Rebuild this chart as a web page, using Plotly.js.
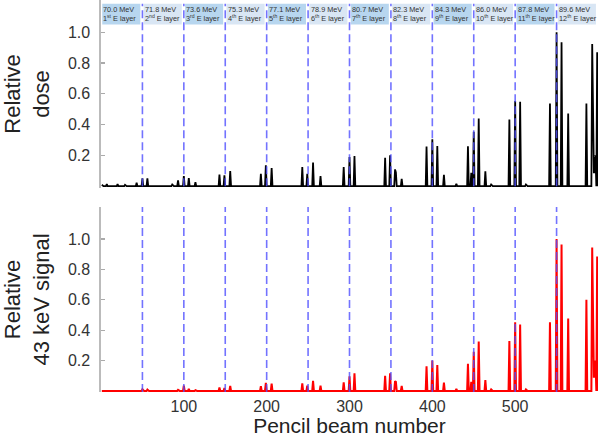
<!DOCTYPE html>
<html><head><meta charset="utf-8">
<script src="https://cdn.plot.ly/plotly-3.0.1.min.js"></script>
<style>html,body{margin:0;padding:0;background:#fff}#chart{width:600px;height:437px}</style>
</head><body><div id="chart"></div>
<script>
// ---- data ----
const nBeams = 600;
const layerStarts = [0, 50, 100, 150, 200, 250, 300, 350, 400, 450, 500, 550];
const layerEnergies = ['70.0', '71.8', '73.6', '75.3', '77.1', '78.9', '80.7', '82.3', '84.3', '86.0', '87.8', '89.6'];
const layerOrdinals = ['1<sup>st</sup>', '2<sup>nd</sup>', '3<sup>rd</sup>', '4<sup>th</sup>', '5<sup>th</sup>', '6<sup>th</sup>',
  '7<sup>th</sup>', '8<sup>th</sup>', '9<sup>th</sup>', '10<sup>th</sup>', '11<sup>th</sup>', '12<sup>th</sup>'];

const doseBeams = [1, 7, 20, 29, 43, 50, 56, 86, 93, 100, 106, 114, 143, 149, 156, 193, 199, 206,
  243, 249, 256, 265, 293, 300, 306, 343, 349, 355, 356, 363, 393, 400, 406, 414, 429,
  443, 447, 450, 456, 464, 471, 493, 500, 506, 513, 542, 550, 556, 564, 586, 593, 594, 595, 596, 597, 599];
const doseValues = [0.009, 0.013, 0.013, 0.009, 0.022, 0.05, 0.05, 0.011, 0.037, 0.065, 0.052, 0.026, 0.076, 0.07, 0.098, 0.081, 0.135, 0.118,
  0.124, 0.081, 0.153, 0.065, 0.124, 0.19, 0.196, 0.185, 0.2, 0.109, 0.09, 0.048, 0.257, 0.305, 0.261, 0.074, 0.015,
  0.259, 0.087, 0.353, 0.44, 0.096, 0.011, 0.434, 0.553, 0.549, 0.011, 0.538, 1.0, 0.935, 0.473, 0.538, 0.924, 0.2, 0.09, 0.09, 0.2, 0.871];

const signalBeams = [43, 50, 56, 86, 93, 100, 106, 114, 143, 149, 156, 193, 199, 206,
  243, 249, 256, 265, 293, 300, 306, 343, 349, 355, 356, 363, 393, 400, 406, 414, 429,
  443, 447, 450, 456, 464, 471, 493, 500, 506, 513, 542, 550, 556, 564, 586, 593, 594, 595, 596, 597, 599];
const signalValues = [0.003, 0.011, 0.009, 0.002, 0.007, 0.035, 0.013, 0.005, 0.022, 0.02, 0.033, 0.031, 0.053, 0.048,
  0.05, 0.035, 0.066, 0.035, 0.057, 0.096, 0.116, 0.10, 0.116, 0.064, 0.06, 0.033, 0.162, 0.20, 0.171, 0.055, 0.013,
  0.178, 0.06, 0.257, 0.325, 0.072, 0.01, 0.329, 0.452, 0.437, 0.01, 0.451, 1.0, 0.964, 0.477, 0.60, 0.943, 0.2, 0.094, 0.094, 0.2, 0.884];

const xTickVals = [100, 200, 300, 400, 500];
const yTickVals = [0.2, 0.4, 0.6, 0.8, 1.0];

// ---- build dense series (beams without a peak are at baseline 0) ----
function dense(beams, vals) {
  const y = new Array(nBeams).fill(0);
  beams.forEach((b, i) => { y[b - 1] = vals[i]; });
  return y;
}
const beamAxis = Array.from({length: nBeams}, (_, i) => i + 1);

const traces = [
  {x: beamAxis, y: dense(doseBeams, doseValues), xaxis: 'x', yaxis: 'y', mode: 'lines',
   line: {color: '#000000', width: 1.8}, hoverinfo: 'skip'},
  {x: beamAxis, y: dense(signalBeams, signalValues), xaxis: 'x', yaxis: 'y2', mode: 'lines',
   line: {color: '#ff0000', width: 2}, hoverinfo: 'skip'}
];

const labelFont = {family: 'Liberation Sans, Arial, sans-serif', size: 7.3, color: '#333333'};
const shapes = [];
const annotations = [];
layerStarts.forEach((s, i) => {
  shapes.push({type: 'rect', xref: 'x', yref: 'y', x0: s + 1.5, x1: s + 47.5, y0: 1.05, y1: 1.185,
    fillcolor: i % 2 === 0 ? '#b7d6ef' : '#d9e6f4', line: {width: 0}, layer: 'below'});
  annotations.push({xref: 'x', yref: 'y', x: s + 1.8, y: 1.117, xanchor: 'left', yanchor: 'middle',
    align: 'left', showarrow: false, borderpad: 0,
    text: layerEnergies[i] + ' MeV<br>' + layerOrdinals[i] + ' E layer',
    font: labelFont});
});
layerStarts.slice(1).forEach(s => {
  shapes.push({type: 'line', xref: 'x', yref: 'y', x0: s, x1: s, y0: 0, y1: 1.185,
    line: {color: 'rgba(80,80,255,0.8)', width: 1.6, dash: '8px,4px'}, layer: 'above'});
  shapes.push({type: 'line', xref: 'x', yref: 'y2 domain', x0: s, x1: s, y0: 0, y1: 1,
    line: {color: 'rgba(80,80,255,0.8)', width: 1.6, dash: '8px,4px'}, layer: 'above'});
});

const yAxisCommon = {
  tickvals: yTickVals, tickformat: '.1f', ticks: 'inside', ticklen: 4, tickcolor: '#aaaaaa', tickwidth: 1.2,
  showline: true, linecolor: '#bbbbbb', linewidth: 1.6, showgrid: false, zeroline: false,
  tickfont: {family: 'Liberation Sans, Arial, sans-serif', size: 16, color: '#333333'},
  ticklabelstandoff: 6
};

const layout = {
  width: 600, height: 437,
  margin: {l: 101, r: 2, t: 0, b: 45},
  paper_bgcolor: '#ffffff', plot_bgcolor: '#ffffff',
  showlegend: false,
  font: {family: 'Liberation Sans, Arial, sans-serif', color: '#222222'},
  xaxis: {range: [0, 600], anchor: 'y2', tickvals: xTickVals, ticks: '', showline: false,
    showgrid: false, zeroline: false, ticklabelstandoff: 3,
    tickfont: {family: 'Liberation Sans, Arial, sans-serif', size: 16, color: '#333333'},
    title: {text: 'Pencil beam number', font: {size: 21, color: '#222222'}, standoff: 12}},
  yaxis: Object.assign({}, yAxisCommon, {domain: [0.5204, 1], range: [-0.012, 1.21],
    title: {text: 'Relative<br>dose', font: {size: 22, color: '#222222'}, standoff: 20}}),
  yaxis2: Object.assign({}, yAxisCommon, {domain: [0, 0.4719], range: [-0.007, 1.21],
    title: {text: 'Relative<br>43 keV signal', font: {size: 22, color: '#222222'}, standoff: 20}}),
  shapes: shapes,
  annotations: annotations
};

Plotly.newPlot('chart', traces, layout, {displayModeBar: false, staticPlot: true});
</script>
</body></html>
